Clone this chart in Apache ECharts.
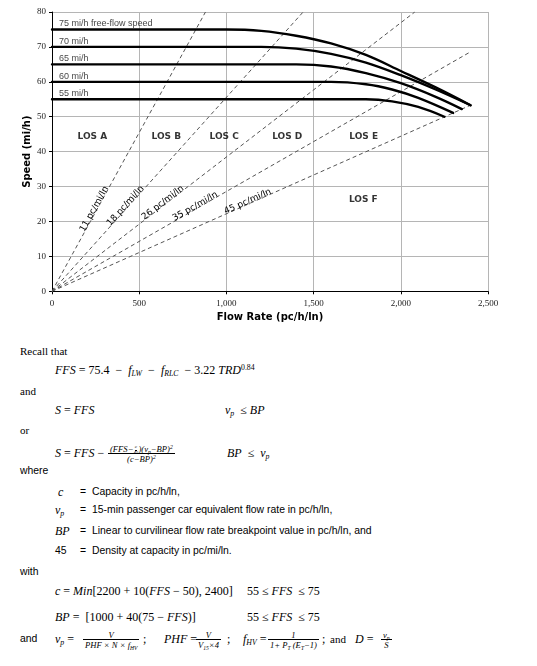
<!DOCTYPE html>
<html>
<head>
<meta charset="utf-8">
<script src="https://cdn.jsdelivr.net/npm/echarts@6/dist/echarts.min.js"></script>
<style>
body { margin: 0; background: #fff; }
#page { position: relative; width: 537px; height: 666px; overflow: hidden; background: #fff; }
#chart { position: absolute; left: 0; top: 0; width: 537px; height: 335px; }
.t { position: absolute; white-space: nowrap; line-height: 14px; height: 14px; color: #000; }
.rm { font-family: "Liberation Serif", serif; font-size: 11px; }
.ss { font-family: "Liberation Sans", sans-serif; font-size: 10.4px; }
.m { font-family: "Liberation Serif", serif; font-size: 12px; }
sub, sup { font-size: 0.65em; line-height: 0; }
sub { vertical-align: -0.3em; }
sup { vertical-align: 0.55em; }
.fr { position: absolute; display: flex; flex-direction: column; align-items: center;
      font-family: "Liberation Serif", serif; font-size: 8.6px; font-style: italic; }
.fr .n { height: 9px; line-height: 10px; border-bottom: 0.8px solid #000; padding: 0 1px; width: 100%; text-align: center; }
.fr .d { height: 9px; line-height: 10px; padding: 0 1px; }
.nf { display: inline-flex; flex-direction: column; align-items: center; font-size: 5px; line-height: 4.5px; vertical-align: middle; }
.nf span:first-child { border-bottom: 0.5px solid #000; }
</style>
</head>
<body>
<div id="page">
  <div id="chart"></div>

  <div class="t rm" style="left:20px;top:344px">Recall that</div>
  <div class="t m" style="left:55px;top:363px"><i>FFS</i> = 75.4 &nbsp;&minus;&nbsp; <i>f<sub>LW</sub></i> &nbsp;&minus;&nbsp; <i>f<sub>RLC</sub></i> &nbsp;&minus; 3.22 <i>TRD</i><sup>0.84</sup></div>

  <div class="t rm" style="left:20px;top:384px">and</div>
  <div class="t m" style="left:55px;top:403px"><i>S</i> = <i>FFS</i></div>
  <div class="t m" style="left:225px;top:403px"><i>v<sub>p</sub></i> &nbsp;&le; <i>BP</i></div>

  <div class="t rm" style="left:20px;top:423px">or</div>
  <div class="t m" style="left:55px;top:446px"><i>S</i> = <i>FFS</i> &minus;</div>
  <div class="fr" style="left:109px;top:444px">
    <div class="n">(FFS&minus;<span class="nf"><span>c</span><span>45</span></span>)(v<sub>p</sub>&minus;BP)<sup>2</sup></div>
    <div class="d">(c&minus;BP)<sup>2</sup></div>
  </div>
  <div class="t m" style="left:227px;top:446px"><i>BP</i> &nbsp;&le;&nbsp; <i>v<sub>p</sub></i></div>

  <div class="t ss" style="left:20px;top:464px">where</div>
  <div class="t m" style="left:58px;top:485px"><i>c</i></div>
  <div class="t ss" style="left:80px;top:485px">=</div>
  <div class="t ss" style="left:92px;top:485px">Capacity in pc/h/ln,</div>
  <div class="t m" style="left:55px;top:503px"><i>v<sub>p</sub></i></div>
  <div class="t ss" style="left:80px;top:503px">=</div>
  <div class="t ss" style="left:92px;top:503px">15-min passenger car equivalent flow rate in pc/h/ln,</div>
  <div class="t m" style="left:55px;top:524px"><i>BP</i></div>
  <div class="t ss" style="left:80px;top:524px">=</div>
  <div class="t ss" style="left:92px;top:524px">Linear to curvilinear flow rate breakpoint value in pc/h/ln, and</div>
  <div class="t ss" style="left:55px;top:544px">45</div>
  <div class="t ss" style="left:80px;top:544px">=</div>
  <div class="t ss" style="left:92px;top:544px">Density at capacity in pc/mi/ln.</div>

  <div class="t ss" style="left:20px;top:565px">with</div>
  <div class="t m" style="left:55px;top:584px"><i>c</i> = <i>Min</i>[2200 + 10(<i>FFS</i> &minus; 50), 2400]</div>
  <div class="t m" style="left:247px;top:584px">55 &le; <i>FFS</i> &nbsp;&le; 75</div>
  <div class="t m" style="left:55px;top:610px"><i>BP</i> = &nbsp;[1000 + 40(75 &minus; <i>FFS</i>)]</div>
  <div class="t m" style="left:247px;top:610px">55 &le; <i>FFS</i> &nbsp;&le; 75</div>

  <div class="t ss" style="left:20px;top:632px">and</div>
  <div class="t m" style="left:55px;top:632px"><i>v<sub>p</sub></i> =</div>
  <div class="fr" style="left:84px;top:630px">
    <div class="n">V</div>
    <div class="d">PHF &times; N &times; f<sub>HV</sub></div>
  </div>
  <div class="t m" style="left:143px;top:632px">;</div>
  <div class="t m" style="left:164px;top:632px"><i>PHF</i> =</div>
  <div class="fr" style="left:197px;top:630px">
    <div class="n">V</div>
    <div class="d">V<sub>15</sub>&times;4</div>
  </div>
  <div class="t m" style="left:227px;top:632px">;</div>
  <div class="t m" style="left:243px;top:632px"><i>f<sub>HV</sub></i> =</div>
  <div class="fr" style="left:269px;top:630px">
    <div class="n">1</div>
    <div class="d">1+ P<sub>T</sub> (E<sub>T</sub>&minus;1)</div>
  </div>
  <div class="t m" style="left:322px;top:632px">;</div>
  <div class="t rm" style="left:330px;top:632px">and</div>
  <div class="t m" style="left:355px;top:632px"><i>D</i> =</div>
  <div class="fr" style="left:382px;top:630px">
    <div class="n">v<sub>p</sub></div>
    <div class="d">S</div>
  </div>
</div>

<script>
// flow rate tick labels (pc/h/ln)
const xTickLabels = ['0', '500', '1,000', '1,500', '2,000', '2,500']

// speed-flow curves, [flow, speed]
const speed75 = [[0, 75], [1000, 75], [1200, 74.6], [1400, 73.2], [1600, 71.0], [1800, 67.7], [2000, 63.1], [2200, 58.4], [2400, 53.3]]
const speed70 = [[0, 70], [1200, 70], [1400, 69.5], [1600, 68.0], [1800, 65.5], [2000, 61.9], [2200, 57.8], [2400, 53.3]]
const speed65 = [[0, 65], [1400, 65], [1600, 64.4], [1800, 62.5], [2000, 59.6], [2200, 55.7], [2350, 52.2]]
const speed60 = [[0, 60], [1600, 60], [1800, 59.3], [1950, 57.8], [2100, 55.4], [2300, 51.1]]
const speed55 = [[0, 55], [1800, 55], [1950, 54.4], [2100, 52.8], [2250, 50.0]]
const ffsCurves = [speed75, speed70, speed65, speed60, speed55]
const ffsLabels = ['75 mi/h free-flow speed', '70 mi/h', '65 mi/h', '60 mi/h', '55 mi/h']
const ffsLabelPos = [[40, 75], [40, 70], [40, 65], [40, 60], [40, 55]]

// density boundaries (pc/mi/ln), lines from origin to these ends
const densities = [11, 18, 26, 35, 45]
const densityEnds = [[880, 80], [1440, 80], [2080, 80], [2400, 68.6], [2400, 53.3]]
const densityLabelAt = [0.29, 0.30, 0.31, 0.345, 0.47]

// level of service labels
const losNames = ['LOS A', 'LOS B', 'LOS C', 'LOS D', 'LOS E', 'LOS F']
const losPos = [[231, 44.4], [655, 44.4], [987, 44.4], [1349, 44.4], [1787, 44.4], [1785, 26.3]]

const chart = echarts.init(document.getElementById('chart'))

const axisFont = { fontFamily: 'Liberation Serif', fontSize: 9, color: '#222' }
const titleFont = { fontFamily: 'DejaVu Sans', fontWeight: 'bold', fontSize: 10, color: '#000' }

chart.setOption({
  animation: false,
  grid: { left: 52, right: 49, top: 12, bottom: 43.7 },
  xAxis: {
    type: 'value', min: 0, max: 2500, interval: 500,
    name: 'Flow Rate (pc/h/ln)', nameLocation: 'middle', nameGap: 21, nameTextStyle: titleFont,
    nameMoveOverlap: false,
    axisLine: { show: true, onZero: false, lineStyle: { color: '#000', width: 1 } },
    axisTick: { show: true, length: 3, lineStyle: { color: '#000' } },
    axisLabel: { ...axisFont, margin: 8, formatter: (v) => xTickLabels[Math.round(v / 500)] },
    splitLine: { lineStyle: { color: '#b5b5b5', width: 1 } },
  },
  yAxis: {
    type: 'value', min: 0, max: 80, interval: 10,
    name: 'Speed (mi/h)', nameLocation: 'middle', nameGap: 20, nameTextStyle: titleFont,
    nameMoveOverlap: false,
    axisLine: { show: true, onZero: false, lineStyle: { color: '#000', width: 1 } },
    axisTick: { show: true, length: 3, lineStyle: { color: '#000' } },
    axisLabel: { ...axisFont, margin: 6 },
    splitLine: { lineStyle: { color: '#b5b5b5', width: 1 } },
  },
  series: [
    ...densities.map((k, i) => ({
      type: 'line',
      name: k + ' pc/mi/ln',
      data: [[0, 0], densityEnds[i]],
      showSymbol: false,
      silent: true,
      lineStyle: { color: '#555', width: 1, type: [4, 3] },
      z: 3,
    })),
    ...ffsCurves.map((d, i) => ({
      type: 'line',
      name: ffsLabels[i],
      data: d,
      showSymbol: false,
      smooth: 0.35,
      silent: true,
      lineStyle: { color: '#000', width: 2.4, cap: 'round', join: 'round' },
      z: 5,
    })),
    {
      type: 'scatter',
      symbolSize: 0,
      silent: true,
      data: ffsLabelPos.map((p, i) => ({ value: p, name: ffsLabels[i] })),
      label: {
        show: true, formatter: '{b}', position: [0, -1], align: 'left', verticalAlign: 'bottom',
        fontFamily: 'Liberation Sans', fontSize: 9, color: '#111',
      },
      z: 6,
    },
    {
      type: 'scatter',
      symbolSize: 0,
      silent: true,
      data: losPos.map((p, i) => ({ value: p, name: losNames[i] })),
      label: {
        show: true, formatter: '{b}', position: 'inside',
        fontFamily: 'DejaVu Sans', fontWeight: 'bold', fontSize: 9, color: '#000',
      },
      z: 6,
    },
  ],
})

// density labels sit along their dashed lines
const o = chart.convertToPixel({ gridIndex: 0 }, [0, 0])
chart.setOption({
  graphic: densities.map((k, i) => {
    const e = chart.convertToPixel({ gridIndex: 0 }, densityEnds[i])
    const t = densityLabelAt[i]
    const a = Math.atan2(o[1] - e[1], e[0] - o[0])
    return {
      type: 'text',
      x: o[0] + (e[0] - o[0]) * t + 2 * Math.sin(a),
      y: o[1] + (e[1] - o[1]) * t + 2 * Math.cos(a),
      rotation: a,
      z: 10,
      style: { text: k + ' pc/mi/ln', font: '9px "DejaVu Sans"', fill: '#000', align: 'center', verticalAlign: 'bottom' },
    }
  }),
})
</script>
</body>
</html>
